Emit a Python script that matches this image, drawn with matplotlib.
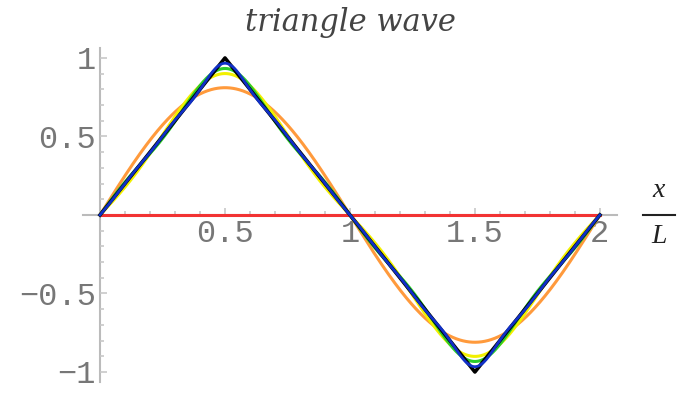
import numpy as np
import matplotlib.pyplot as plt
from matplotlib.ticker import MultipleLocator, FixedLocator, FixedFormatter

# odd harmonics and their sine coefficients (sign included)
harmonics = [1, 3, 5, 7, 9, 11]
coeffs = [0.8106, -0.0901, 0.0324, -0.0165, 0.0100, -0.0067]

# number of harmonics kept in each partial sum, with its colour
n_terms = [0, 1, 2, 3, 6]
colors = ['#f23333', '#ff9a3c', '#f2f000', '#2ccc2c', '#1030c8']

# the exact triangle wave
tri_x = [0, 0.5, 1.5, 2]
tri_y = [0, 1, -1, 0]

xticks = [0.5, 1, 1.5, 2]
xlabels = ['0.5', '1', '1.5', '2']
yticks = [-1, -0.5, 0.5, 1]
ylabels = ['\u22121', '\u22120.5', '0.5', '1']

fig = plt.figure(figsize=(6.77, 3.93), dpi=100)
ax = fig.add_axes([0.1219, 0.0275, 0.790, 0.851])

x = np.linspace(0, 2, 801)


def partial_sum(n):
    y = np.zeros_like(x)
    for k, b in zip(harmonics[:n], coeffs[:n]):
        y += b * np.sin(k * np.pi * x)
    return y


for n, c in zip(n_terms[:4], colors[:4]):
    ax.plot(x, partial_sum(n), color=c, lw=2.2, zorder=3)
ax.plot(tri_x, tri_y, color='black', lw=2.6, zorder=3)
ax.plot(x, partial_sum(n_terms[4]), color=colors[4], lw=2.0, zorder=4)

ax.set_xlim(-0.07, 2.07)
ax.set_ylim(-1.065, 1.065)

# axes through the origin, Mathematica style
for s in ['top', 'right']:
    ax.spines[s].set_visible(False)
ax.spines['left'].set_position(('data', 0))
ax.spines['bottom'].set_position(('data', 0))
for s in ['left', 'bottom']:
    ax.spines[s].set_color('#bbbbbb')
    ax.spines[s].set_linewidth(1.5)
    ax.spines[s].set_zorder(1)

ax.xaxis.set_major_locator(FixedLocator(xticks))
ax.xaxis.set_major_formatter(FixedFormatter(xlabels))
ax.yaxis.set_major_locator(FixedLocator(yticks))
ax.yaxis.set_major_formatter(FixedFormatter(ylabels))
ax.xaxis.set_minor_locator(MultipleLocator(0.1))
ax.yaxis.set_minor_locator(MultipleLocator(0.1))

ax.tick_params(which='both', direction='in', color='#c8c8c8', width=1.2)
ax.tick_params(which='major', length=5, labelsize=23, labelcolor='#777777', pad=3)
ax.tick_params(which='minor', length=3)
for lab in ax.get_xticklabels() + ax.get_yticklabels():
    lab.set_family('Liberation Mono')

fig.text(350 / 677, 1 - 22 / 393, 'triangle wave', ha='center', va='center',
         family='DejaVu Serif', style='italic', fontsize=22, color='#444444')

# x/L axis label as a stacked fraction
fig.text(659 / 677, 1 - 191 / 393, 'x', ha='center', va='center',
         family='Liberation Serif', style='italic', fontsize=20, color='#222222')
fig.text(659 / 677, 1 - 236 / 393, 'L', ha='center', va='center',
         family='Liberation Serif', style='italic', fontsize=20, color='#222222')
fig.add_artist(plt.Line2D([643 / 677, 675 / 677], [1 - 215 / 393, 1 - 215 / 393],
                          color='#222222', lw=1.5, transform=fig.transFigure))

fig.savefig('out.png', dpi=100)
